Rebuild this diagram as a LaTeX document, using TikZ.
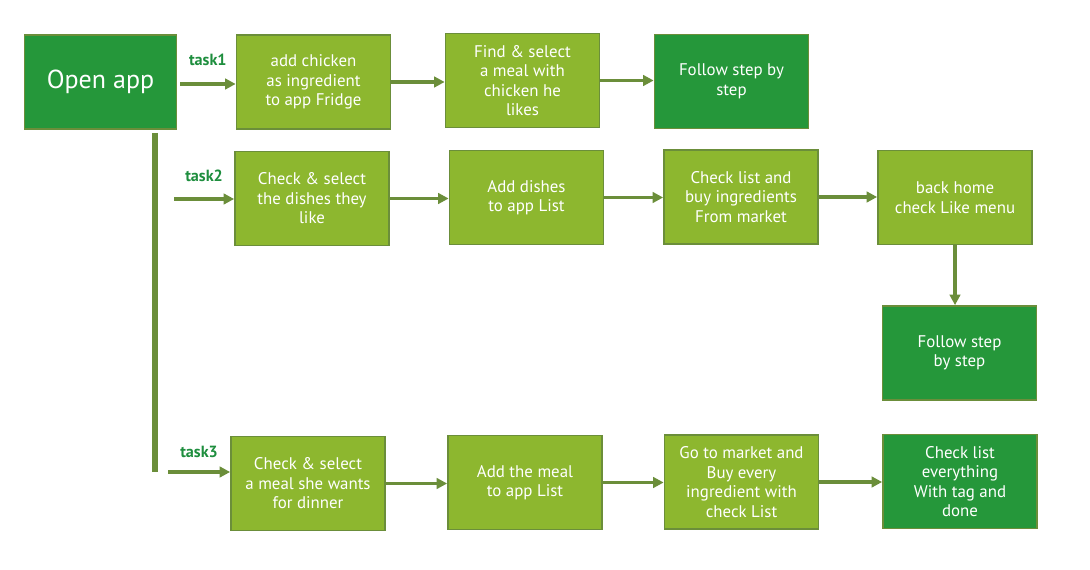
\documentclass[tikz,border=0pt]{standalone}
\usepackage{fontspec}
\setmainfont{PT Sans}
\usetikzlibrary{arrows.meta, calc}
\definecolor{leafGreen}{HTML}{8DB72F}
\definecolor{appGreen}{HTML}{25973A}
\definecolor{edgeOlive}{HTML}{6B8E3A}
\definecolor{taskGreen}{HTML}{1E8E3E}
\begin{document}
\begin{tikzpicture}[x=0.025cm, y=-0.025cm,
  stepbox/.style={draw=edgeOlive, line width=1.2pt, fill=leafGreen, text=white,
    minimum width=3.85cm, minimum height=2.35cm, align=center, inner sep=2pt,
    font=\fontsize{12}{13.9}\selectfont},
  donebox/.style={stepbox, fill=appGreen},
  flow/.style={draw=edgeOlive, line width=2.2pt, -{Triangle[length=2.6mm, width=2.6mm]}},
  tasklbl/.style={text=taskGreen, font=\bfseries\fontsize{11.5}{13}\selectfont}]

	\fill[white] (0,0) rectangle (1090,570);
	\useasboundingbox (0,0) rectangle (1090,570);

	\node[donebox, minimum width=3.8cm, font=\fontsize{18.5}{20}\selectfont] (open) at (100.5,82) {Open app};

	% task 1
	\node[stepbox] (t1a) at (313.5,82) {add chicken\\as ingredient\\to app Fridge};
	\node[stepbox] (t1b) at (522.5,80.5) {Find \& select\\a meal with\\chicken he\\likes};
	\node[donebox] (t1c) at (731.5,81.5) {Follow step by\\step};

	% task 2
	\node[stepbox] (t2a) at (312,198.5) {Check \& select\\the dishes they\\like};
	\node[stepbox] (t2b) at (526.5,197.5) {Add dishes\\to app List};
	\node[stepbox] (t2c) at (741,197) {Check list and\\buy ingredients\\From market};
	\node[stepbox] (t2d) at (955,197.5) {back home\\check Like menu};
	\node[donebox] (t2e) at (959.5,353) {Follow step\\by step};

	% task 3
	\node[stepbox] (t3a) at (308,483.5) {Check \& select\\a meal she wants\\for dinner};
	\node[stepbox] (t3b) at (525,482.5) {Add the meal\\to app List};
	\node[stepbox] (t3c) at (741.5,482) {Go to market and\\Buy every\\ingredient with\\check List};
	\node[donebox] (t3d) at (960,481.5) {Check list\\everything\\With tag and\\done};

	\coordinate (s1) at (180,84);
	\coordinate (s2) at (174,199);
	\coordinate (s3) at (168,472);
	\coordinate (v1) at (155,133);
	\coordinate (v2) at (155,472);

	\draw[edgeOlive, line width=4pt] (v1) -- (v2);

	\draw[flow] (s1) -- (s1 -| t1a.west) node[tasklbl, midway, above=8.5pt] {task1};
	\draw[flow] (s2) -- (s2 -| t2a.west) node[tasklbl, midway, above=8pt] {task2};
	\draw[flow] (s3) -- (s3 -| t3a.west) node[tasklbl, midway, above=6pt] {task3};

	\draw[flow] (t1a.east) -- (t1a.east -| t1b.west);
	\draw[flow] (t1b.east) -- (t1b.east -| t1c.west);

	\draw[flow] (t2a.east) -- (t2a.east -| t2b.west);
	\draw[flow] (t2b.east) -- (t2b.east -| t2c.west);
	\draw[flow] (t2c.east) -- (t2c.east -| t2d.west);
	\draw[flow] (t2d.south) -- (t2d.south |- t2e.north);

	\draw[flow] (t3a.east) -- (t3a.east -| t3b.west);
	\draw[flow] (t3b.east) -- (t3b.east -| t3c.west);
	\draw[flow] (t3c.east) -- (t3c.east -| t3d.west);

\end{tikzpicture}
\end{document}
